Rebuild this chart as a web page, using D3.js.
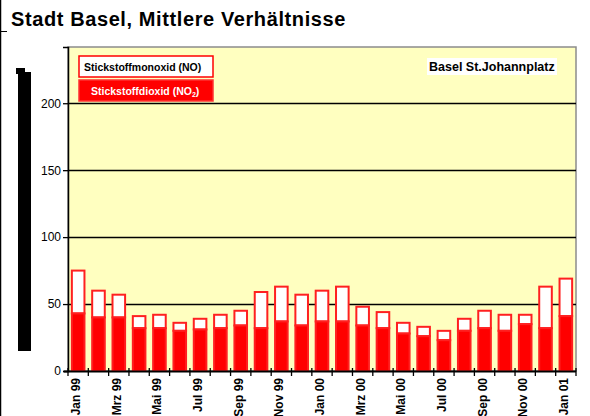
<!DOCTYPE html>
<html>
<head>
<meta charset="utf-8">
<script src="https://cdn.jsdelivr.net/npm/d3@7"></script>
<style>
  body { margin: 0; background: #fff; }
  svg { display: block; font-family: Arial, "Liberation Sans", sans-serif; }
</style>
</head>
<body>
<div id="chart"></div>
<script>
// monthly means, Jan 99 .. Jan 01
const months = ["Jan 99", "Feb 99", "Mrz 99", "Apr 99", "Mai 99", "Jun 99", "Jul 99", "Aug 99", "Sep 99", "Okt 99", "Nov 99", "Dez 99",
  "Jan 00", "Feb 00", "Mrz 00", "Apr 00", "Mai 00", "Jun 00", "Jul 00", "Aug 00", "Sep 00", "Okt 00", "Nov 00", "Dez 00", "Jan 01"];
const no2Values = [43, 40, 40, 32, 32, 30, 31, 32, 34, 32, 37, 34, 37, 37, 34, 32, 28, 26, 23, 30, 32, 30, 35, 32, 41];
const noValues = [32, 20, 17, 9, 10, 6, 8, 10, 11, 27, 26, 23, 23, 26, 14, 12, 8, 7, 7, 9, 13, 12, 7, 31, 28];
const yTicks = [0, 50, 100, 150, 200];
const shownLabels = ["Jan 99", "Mrz 99", "Mai 99", "Jul 99", "Sep 99", "Nov 99", "Jan 00", "Mrz 00", "Mai 00", "Jul 00", "Sep 00", "Nov 00", "Jan 01"];

const width = 590, height = 416;
const plot = { left: 68, right: 576, top: 47, bottom: 371 };

const svg = d3.select("#chart").append("svg")
  .attr("width", width)
  .attr("height", height);

// frame bits
svg.append("line").attr("x1", 0.5).attr("x2", 0.5).attr("y1", 0).attr("y2", height)
  .attr("stroke", "#000").attr("stroke-width", 1.5);
svg.append("line").attr("x1", 0).attr("x2", 7).attr("y1", 31.5).attr("y2", 31.5)
  .attr("stroke", "#000");

svg.append("text")
  .attr("x", 11).attr("y", 26)
  .attr("font-size", 20).attr("font-weight", "bold")
  .attr("letter-spacing", 0.6)
  .attr("fill", "#000")
  .text("Stadt Basel, Mittlere Verhältnisse");

const x = d3.scaleBand().domain(months).range([plot.left, plot.right]).paddingInner(0.38).paddingOuter(0.19);
const y = d3.scaleLinear().domain([0, 242]).range([plot.bottom, plot.top]);

// plot background + border
svg.append("rect")
  .attr("x", plot.left).attr("y", plot.top)
  .attr("width", plot.right - plot.left).attr("height", plot.bottom - plot.top)
  .attr("fill", "#ffffc0")
  .attr("stroke", "#8c8c8c").attr("stroke-width", 1.5);

// grid
svg.append("g").selectAll("line").data(yTicks.filter(d => d > 0)).join("line")
  .attr("x1", plot.left).attr("x2", plot.right)
  .attr("y1", d => Math.round(y(d)) + 0.5).attr("y2", d => Math.round(y(d)) + 0.5)
  .attr("stroke", "#000").attr("stroke-width", 1.3);

// bars
const bars = svg.append("g");
bars.selectAll("rect.no").data(months).join("rect")
  .attr("class", "no")
  .attr("x", d => x(d))
  .attr("width", x.bandwidth())
  .attr("y", (d, i) => y(no2Values[i] + noValues[i]))
  .attr("height", (d, i) => y(no2Values[i]) - y(no2Values[i] + noValues[i]))
  .attr("fill", "#fff")
  .attr("stroke", "#ff2020").attr("stroke-width", 2);
bars.selectAll("rect.no2").data(months).join("rect")
  .attr("class", "no2")
  .attr("x", d => x(d))
  .attr("width", x.bandwidth())
  .attr("y", (d, i) => y(no2Values[i]))
  .attr("height", (d, i) => y(0) - y(no2Values[i]))
  .attr("fill", "#ff0000")
  .attr("stroke", "#ff2020").attr("stroke-width", 2);

// y axis
const yAxis = d3.axisLeft(y).tickValues(yTicks).tickSize(5).tickPadding(2);
const gy = svg.append("g").attr("transform", `translate(${plot.left},0)`).call(yAxis);
gy.select(".domain").attr("stroke", "#000").attr("stroke-width", 1.5);
gy.selectAll(".tick line").attr("stroke", "#000").attr("stroke-width", 1.3);
gy.selectAll(".tick text").attr("font-size", 12).attr("fill", "#000").attr("font-family", "Arial, Liberation Sans, sans-serif");

// x axis: ticks at band boundaries
const step = x.step();
const x0 = x(months[0]) - (x.paddingOuter() - x.paddingInner() / 2) * step - x.paddingInner() / 2 * step;
const bounds = d3.range(months.length + 1).map(i => x(months[0]) - x.paddingInner() / 2 * step + i * step);
svg.append("line")
  .attr("x1", plot.left - 4).attr("x2", plot.right)
  .attr("y1", plot.bottom + 0.5).attr("y2", plot.bottom + 0.5)
  .attr("stroke", "#000").attr("stroke-width", 1.8);
svg.append("g").selectAll("line").data(bounds).join("line")
  .attr("x1", d => d).attr("x2", d => d)
  .attr("y1", plot.bottom - 3).attr("y2", plot.bottom + 5)
  .attr("stroke", "#000").attr("stroke-width", 1.3);

svg.append("g").selectAll("text").data(shownLabels).join("text")
  .attr("transform", d => `translate(${x(d) + x.bandwidth() / 2 + 2},${plot.bottom + 7}) rotate(-90)`)
  .attr("text-anchor", "end")
  .attr("font-size", 12).attr("font-weight", "bold")
  .attr("fill", "#000")
  .text(d => d);

// y axis title (rendered as a solid bar in the original)
svg.append("rect").attr("x", 18).attr("y", 72).attr("width", 13).attr("height", 279).attr("fill", "#000");
svg.append("rect").attr("x", 16).attr("y", 68).attr("width", 9).attr("height", 6).attr("fill", "#000");

// legend
const legend = svg.append("g");
legend.append("rect").attr("x", 79).attr("y", 56).attr("width", 134).attr("height", 21)
  .attr("fill", "#fff").attr("stroke", "#ff0000").attr("stroke-width", 1.5);
legend.append("text").attr("x", 84).attr("y", 71)
  .attr("font-size", 10.5).attr("font-weight", "bold").attr("fill", "#000")
  .text("Stickstoffmonoxid (NO)");
legend.append("rect").attr("x", 79).attr("y", 80).attr("width", 134).attr("height", 21)
  .attr("fill", "#ff0000").attr("stroke", "#ff3030").attr("stroke-width", 1.5);
const t2 = legend.append("text").attr("x", 91).attr("y", 95)
  .attr("font-size", 10.5).attr("font-weight", "bold").attr("fill", "#fff");
t2.append("tspan").text("Stickstoffdioxid (NO");
t2.append("tspan").attr("font-size", 7).attr("dy", 2).text("2");
t2.append("tspan").attr("dy", -2).text(")");

// station label
svg.append("rect").attr("x", 427).attr("y", 58).attr("width", 130).attr("height", 17).attr("fill", "#fff");
svg.append("text").attr("x", 429).attr("y", 71)
  .attr("font-size", 12.5).attr("font-weight", "bold").attr("fill", "#000")
  .text("Basel St.Johannplatz");
</script>
</body>
</html>
